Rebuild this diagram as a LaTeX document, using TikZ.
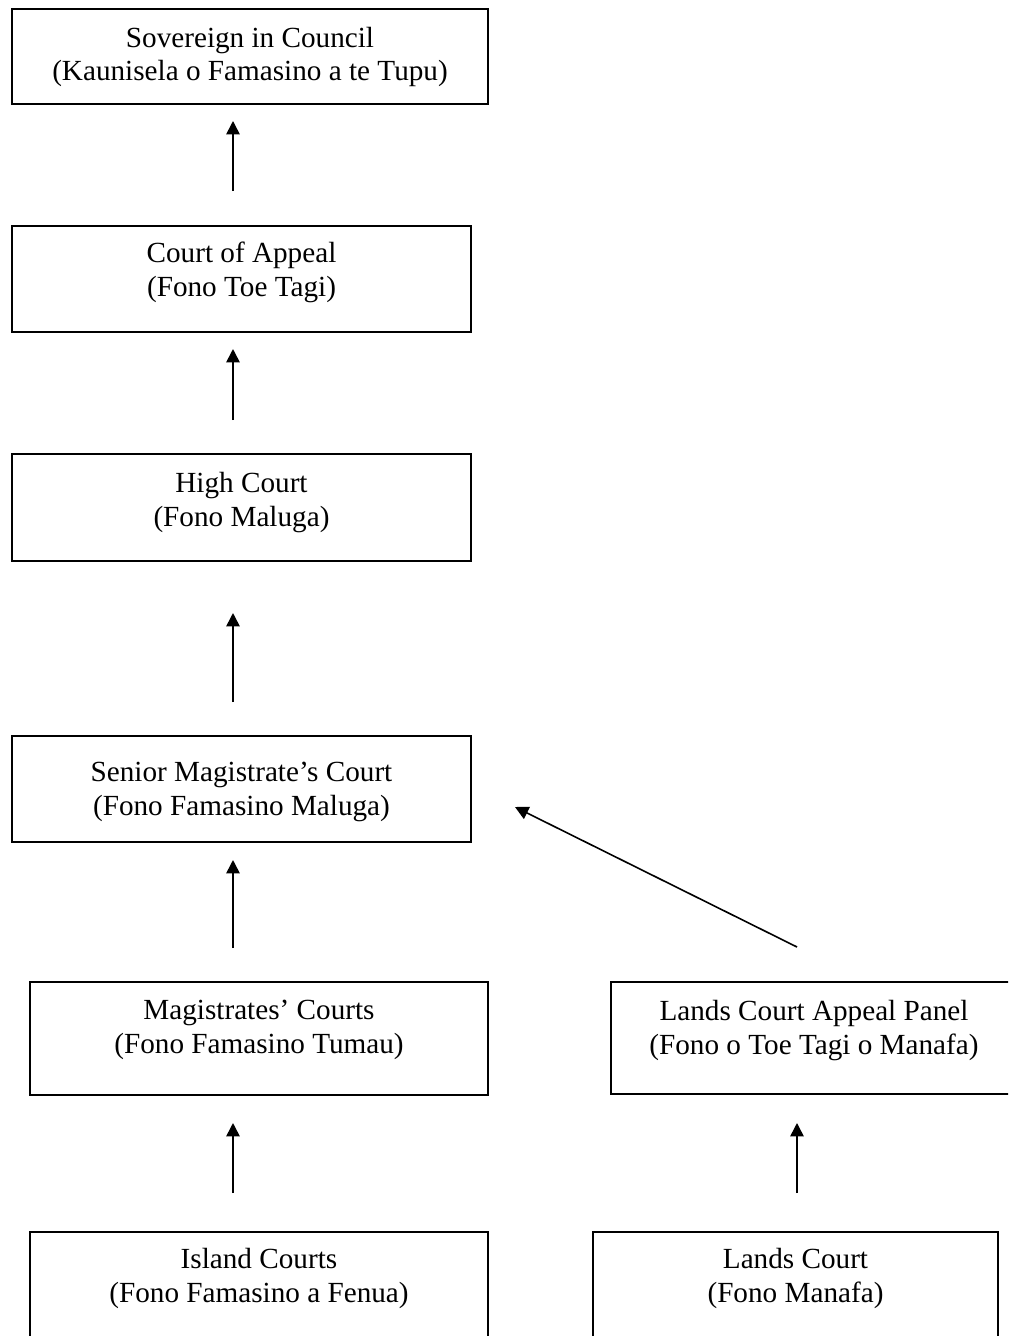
\documentclass[tikz,border=0pt]{standalone}
\usepackage{fontspec}
\setmainfont{Liberation Serif}
\usetikzlibrary{arrows.meta,fit}
\begin{document}
\begin{tikzpicture}[x=0.75pt,y=-0.75pt,
  courtbox/.style={draw=black,line width=1.4pt,inner sep=0pt,rectangle},
  courttext/.style={anchor=north,inner sep=0pt,align=center,
    font=\fontsize{21.9pt}{25.3pt}\selectfont},
  uparrow/.style={line width=1.2pt,-{Triangle[length=10pt,width=10pt]}}]
\useasboundingbox[fill=white] (0,0) rectangle (1008,1336);
\clip (0,0) rectangle (1008,1336);
% boxes
\node[courtbox,fit={(12,9) (488,104)}] (sov) {};
\node[courtbox,fit={(12,226) (471,332)}] (coa) {};
\node[courtbox,fit={(12,454) (471,561)}] (high) {};
\node[courtbox,fit={(12,736) (471,842)}] (senior) {};
\node[courtbox,fit={(30,982) (488,1095)}] (mag) {};
\node[courtbox,fit={(611,982) (1017,1094)}] (lcap) {};
\node[courtbox,fit={(30,1232) (488,1346)}] (island) {};
\node[courtbox,fit={(593,1232) (998,1346)}] (lands) {};
% texts
\node[courttext] (sovt) at (250,26.5) {Sovereign in Council\\(Kaunisela o Famasino a te Tupu)};
\node[courttext] (coat) at (241.5,242) {Court of Appeal\\(Fono Toe Tagi)};
\node[courttext] (hight) at (241.5,472) {High Court\\(Fono Maluga)};
\node[courttext] (seniort) at (241.5,762) {Senior Magistrate’s Court\\(Fono Famasino Maluga)};
\node[courttext] (magt) at (259,1000) {Magistrates’ Courts\\(Fono Famasino Tumau)};
\node[courttext] (lcapt) at (814,1000) {Lands Court Appeal Panel\\(Fono o Toe Tagi o Manafa)};
\node[courttext] (islandt) at (259,1248) {Island Courts\\(Fono Famasino a Fenua)};
\node[courttext] (landst) at (795.5,1248) {Lands Court\\(Fono Manafa)};
% arrow end points
\coordinate (a1s) at (233,191); \coordinate (a1e) at (233,121);
\coordinate (a2s) at (233,420); \coordinate (a2e) at (233,349);
\coordinate (a3s) at (233,702); \coordinate (a3e) at (233,613);
\coordinate (a4s) at (233,948); \coordinate (a4e) at (233,860);
\coordinate (a5s) at (233,1193); \coordinate (a5e) at (233,1123);
\coordinate (a6s) at (797,1193); \coordinate (a6e) at (797,1123);
\coordinate (a7s) at (797,947); \coordinate (a7e) at (515,807);
\draw[uparrow] (a1s) -- (a1e);
\draw[uparrow] (a2s) -- (a2e);
\draw[uparrow] (a3s) -- (a3e);
\draw[uparrow] (a4s) -- (a4e);
\draw[uparrow] (a5s) -- (a5e);
\draw[uparrow] (a6s) -- (a6e);
\draw[uparrow] (a7s) -- (a7e);
\end{tikzpicture}
\end{document}
